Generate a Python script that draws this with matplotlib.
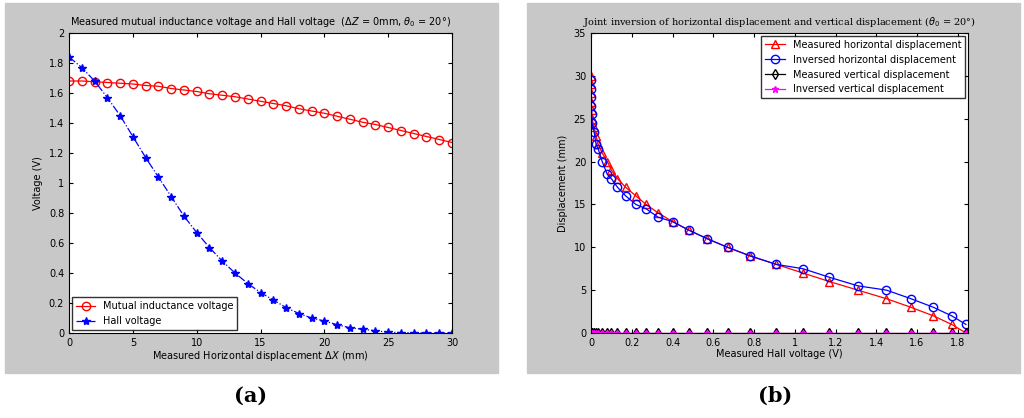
import numpy as np
import matplotlib
matplotlib.use('Agg')
import matplotlib.pyplot as plt
from matplotlib.patches import Rectangle

dx = list(range(31))
mutual_v = [1.68, 1.68, 1.675, 1.67, 1.665, 1.66, 1.65, 1.645, 1.63, 1.62, 1.61,
            1.595, 1.585, 1.575, 1.56, 1.545, 1.53, 1.515, 1.495, 1.48, 1.465,
            1.445, 1.425, 1.405, 1.39, 1.37, 1.35, 1.33, 1.31, 1.29, 1.27]
hall_v = [1.84, 1.77, 1.68, 1.57, 1.45, 1.31, 1.17, 1.04, 0.91, 0.78, 0.67,
          0.57, 0.48, 0.40, 0.33, 0.27, 0.22, 0.17, 0.13, 0.10, 0.08,
          0.055, 0.035, 0.025, 0.015, 0.005, 0.003, 0.002, 0.001, 0.0, 0.0]
meas_h = list(range(31))
inv_h = [1.0, 2.0, 3.0, 4.0, 5.0, 5.5, 6.5, 7.5, 8.0, 9.0, 10.0, 11.0, 12.0, 13.0,
         13.5, 14.5, 15.0, 16.0, 17.0, 18.0, 18.5, 20.0, 21.5, 22.0, 23.5, 24.5,
         25.5, 26.5, 27.5, 28.5, 29.5]
meas_v = [0.0] * 31
inv_v = [0.0] * 31

fs = 7
fig = plt.figure(figsize=(10.24, 4.18), dpi=100)
fig.patches.append(Rectangle((5/1024, 45/418), 493/1024, 370/418, transform=fig.transFigure,
                             color='#c8c8c8', zorder=-5))
fig.patches.append(Rectangle((527/1024, 45/418), 493/1024, 370/418, transform=fig.transFigure,
                             color='#c8c8c8', zorder=-5))

ax1 = fig.add_axes([69/1024, 85/418, 383/1024, 300/418])
ax1.plot(dx, mutual_v, 'r-o', mfc='none', ms=6, lw=0.9, label='Mutual inductance voltage')
ax1.plot(dx, hall_v, 'b-.*', ms=6, lw=0.9, label='Hall voltage')
ax1.set_xlim(0, 30)
ax1.set_ylim(0, 2)
ax1.set_xticks(range(0, 31, 5))
ax1.set_yticks(np.arange(0, 2.01, 0.2))
ax1.set_yticklabels(['0', '0.2', '0.4', '0.6', '0.8', '1', '1.2', '1.4', '1.6', '1.8', '2'])
ax1.set_xlabel(r'Measured Horizontal displacement $\Delta X$ (mm)', fontsize=fs, labelpad=1)
ax1.set_ylabel('Voltage (V)', fontsize=fs)
ax1.set_title(r'Measured mutual inductance voltage and Hall voltage  ($\Delta Z$ = 0mm, $\theta_0$ = 20°)',
              fontsize=fs, pad=6)
ax1.legend(loc='lower left', fontsize=fs, fancybox=False, edgecolor='black', borderaxespad=0.3)

ax2 = fig.add_axes([591/1024, 85/418, 377/1024, 300/418])
ax2.plot(hall_v, meas_h, 'r-^', mfc='none', ms=6, lw=0.9, label='Measured horizontal displacement')
ax2.plot(hall_v, inv_h, 'b-o', mfc='none', ms=6, lw=0.9, label='Inversed horizontal displacement')
ax2.plot(hall_v, meas_v, 'k-d', mfc='none', ms=5, lw=0.9, label='Measured vertical displacement')
ax2.plot(hall_v, inv_v, '-*', color='magenta', ms=5, lw=0.9, label='Inversed vertical displacement')
ax2.set_xlim(0, 1.85)
ax2.set_ylim(0, 35)
ax2.set_xticks(np.arange(0, 1.81, 0.2))
ax2.set_xticklabels(['0', '0.2', '0.4', '0.6', '0.8', '1', '1.2', '1.4', '1.6', '1.8'])
ax2.set_yticks(range(0, 36, 5))
ax2.set_xlabel('Measured Hall voltage (V)', fontsize=fs, labelpad=1)
ax2.set_ylabel('Displacement (mm)', fontsize=fs)
ax2.set_title(r'Joint inversion of horizontal displacement and vertical displacement ($\theta_0$ = 20°)',
              fontsize=fs, pad=6, family='serif')
ax2.legend(loc='upper right', fontsize=fs, fancybox=False, edgecolor='black', borderaxespad=0.3)

for ax in (ax1, ax2):
    ax.tick_params(direction='in', top=True, right=True, labelsize=fs, length=3)
    ax.set_zorder(5)
    for s in ax.spines.values():
        s.set_clip_on(False)

fig.text(251/1024, 22/418, '(a)', fontsize=15, fontweight='bold', family='serif', ha='center', va='center')
fig.text(775/1024, 22/418, '(b)', fontsize=15, fontweight='bold', family='serif', ha='center', va='center')

fig.savefig('out.png', dpi=100)
